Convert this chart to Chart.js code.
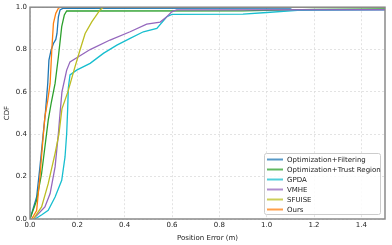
<!DOCTYPE html>
<html>
<head>
<meta charset="utf-8">
<script src="https://cdn.jsdelivr.net/npm/chart.js@4"></script>
<style>
  html, body { margin: 0; padding: 0; background: #fff; }
  #wrap { width: 392px; height: 245px; }
</style>
</head>
<body>
<div id="wrap"><canvas id="cdfChart" width="392" height="245"></canvas></div>
<script>
// CDF curves: [error (m), cdf]
const optFiltering = [[0,0],[0.028,0.104],[0.042,0.246],[0.056,0.404],[0.066,0.514],[0.075,0.64],[0.08,0.75],[0.089,0.797],[0.099,0.829],[0.109,0.848],[0.114,0.876],[0.12,0.955],[0.127,0.987],[0.14,0.995],[1.1,0.996],[1.11,1.0],[1.5,1.0]];
const optTrust = [[0,0],[0.028,0.088],[0.049,0.215],[0.063,0.34],[0.077,0.467],[0.09,0.55],[0.106,0.64],[0.12,0.766],[0.134,0.908],[0.145,0.963],[0.155,0.982],[0.9,0.983],[1.2,0.99],[1.5,0.992]];
const gpda = [[0.021,0],[0.05,0.02],[0.077,0.041],[0.106,0.104],[0.134,0.183],[0.148,0.293],[0.155,0.404],[0.159,0.514],[0.162,0.62],[0.169,0.68],[0.197,0.703],[0.254,0.735],[0.31,0.782],[0.367,0.821],[0.423,0.853],[0.479,0.884],[0.536,0.9],[0.578,0.955],[0.6,0.966],[0.9,0.967],[1.0,0.975],[1.13,0.985],[1.5,0.988]];
const vmhe = [[0.014,0],[0.063,0.057],[0.085,0.12],[0.106,0.246],[0.12,0.404],[0.127,0.5],[0.135,0.6],[0.155,0.703],[0.169,0.742],[0.254,0.8],[0.338,0.845],[0.423,0.884],[0.493,0.92],[0.55,0.93],[0.578,0.955],[0.6,0.979],[0.62,0.987],[1.5,0.988]];
const sfuise = [[0.014,0],[0.049,0.057],[0.077,0.167],[0.106,0.31],[0.122,0.4],[0.135,0.52],[0.16,0.6],[0.19,0.718],[0.211,0.797],[0.233,0.876],[0.261,0.931],[0.296,0.987],[0.31,1.0],[1.5,1.0]];
const ours = [[0.007,0],[0.028,0.04],[0.042,0.2],[0.052,0.34],[0.063,0.482],[0.075,0.56],[0.085,0.64],[0.092,0.797],[0.099,0.924],[0.109,0.971],[0.12,0.995],[0.13,1.0],[1.5,1.0]];

const seriesNames = ['Optimization+Filtering', 'Optimization+Trust Region', 'GPDA', 'VMHE', 'SFUISE', 'Ours'];
const seriesData = [optFiltering, optTrust, gpda, vmhe, sfuise, ours];
const seriesColors = ['#1f77b4', '#2ca02c', '#17becf', '#9467bd', '#bcbd22', '#ff7f0e'];

const xTicks = [0, 0.2, 0.4, 0.6, 0.8, 1.0, 1.2, 1.4];
const yTicks = [0, 0.2, 0.4, 0.6, 0.8, 1.0];

const FONT = 'DejaVu Sans';

// legend box inside the plot, bottom right (matplotlib style)
const insideLegend = {
    id: 'insideLegend',
    afterDraw(chart) {
        const ctx = chart.ctx;
        const area = chart.chartArea;
        const x0 = area.right - 121, y0 = area.bottom - 66, w = 116, h = 61;
        ctx.save();
        ctx.fillStyle = 'rgba(255,255,255,0.85)';
        ctx.strokeStyle = '#cccccc';
        ctx.lineWidth = 1;
        ctx.beginPath();
        ctx.roundRect(x0 + 0.5, y0 + 0.5, w, h, 2);
        ctx.fill();
        ctx.stroke();
        ctx.font = '7px "' + FONT + '"';
        ctx.textBaseline = 'middle';
        chart.data.datasets.forEach((ds, i) => {
            const cy = y0 + 6.5 + i * 10;
            ctx.strokeStyle = ds.borderColor;
            ctx.globalAlpha = 0.75;
            ctx.lineWidth = 2;
            ctx.beginPath();
            ctx.moveTo(x0 + 3, cy);
            ctx.lineTo(x0 + 19, cy);
            ctx.stroke();
            ctx.globalAlpha = 1;
            ctx.fillStyle = '#222';
            ctx.fillText(ds.label, x0 + 23, cy + 0.5);
        });
        // frame around plot
        ctx.strokeStyle = '#8a8a8a';
        ctx.lineWidth = 1.5;
        ctx.strokeRect(area.left, area.top, area.right - area.left, area.bottom - area.top);
        ctx.restore();
    }
};

new Chart(document.getElementById('cdfChart').getContext('2d'), {
    type: 'line',
    data: {
        datasets: seriesNames.map((name, i) => ({
            label: name,
            data: seriesData[i].map(p => ({ x: p[0], y: p[1] })),
            borderColor: seriesColors[i],
            borderWidth: 1.3,
            pointRadius: 0,
            fill: false,
            tension: 0,
            order: seriesNames.length - i
        }))
    },
    options: {
        responsive: false,
        animation: false,
        layout: { padding: { top: 7, right: 7, left: 3, bottom: 3 } },
        plugins: {
            legend: { display: false },
            tooltip: { enabled: false }
        },
        scales: {
            x: {
                type: 'linear',
                min: 0,
                max: 1.5,
                afterBuildTicks: s => { s.ticks = xTicks.map(v => ({ value: v })); },
                afterFit: s => { s.height = 23; },
                ticks: {
                    font: { family: FONT, size: 7 },
                    color: '#222',
                    padding: 2,
                    maxRotation: 0,
                    callback: v => v.toFixed(1)
                },
                grid: { color: '#dcdcdc', drawTicks: false, lineWidth: 0.8 },
                border: { display: false, dash: [2, 2] },
                title: { display: true, text: 'Position Error (m)', font: { family: FONT, size: 7 }, color: '#222', padding: { top: 1, bottom: 0 } }
            },
            y: {
                min: 0,
                max: 1.0,
                afterBuildTicks: s => { s.ticks = yTicks.map(v => ({ value: v })); },
                afterFit: s => { s.width = 27; },
                ticks: {
                    font: { family: FONT, size: 7 },
                    color: '#222',
                    padding: 3,
                    callback: v => v.toFixed(1)
                },
                grid: { color: '#dcdcdc', drawTicks: false, lineWidth: 0.8 },
                border: { display: false, dash: [2, 2] },
                title: { display: true, text: 'CDF', font: { family: FONT, size: 7 }, color: '#222', padding: { top: 0, bottom: 2 } }
            }
        }
    },
    plugins: [insideLegend]
});
</script>
</body>
</html>
